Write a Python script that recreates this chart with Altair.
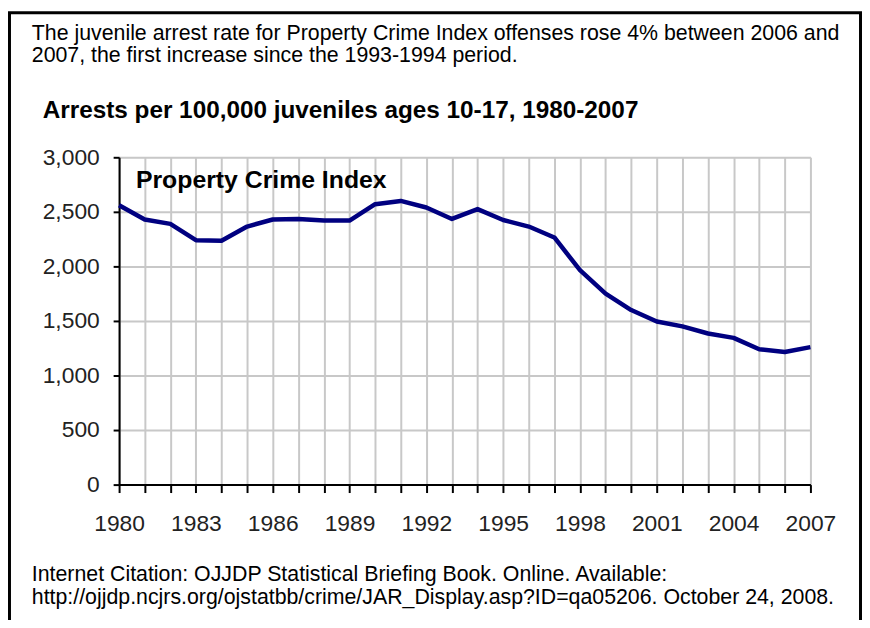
import altair as alt
import pandas as pd

# ---- data ----
years = list(range(1980, 2008))
rates = [2560, 2430, 2390, 2240, 2235, 2365, 2430, 2435, 2420, 2420,
         2570, 2600, 2540, 2435, 2525, 2425, 2365, 2265, 1965, 1750,
         1600, 1495, 1450, 1385, 1345, 1240, 1215, 1260]
y_ticks = [0, 500, 1000, 1500, 2000, 2500, 3000]

intro_lines = [
    "The juvenile arrest rate for Property Crime Index offenses rose 4% between 2006 and",
    "2007, the first increase since the 1993-1994 period.",
]
chart_title = "Arrests per 100,000 juveniles ages 10-17, 1980-2007"
series_label = "Property Crime Index"
citation_lines = [
    "Internet Citation: OJJDP Statistical Briefing Book. Online. Available:",
    "http://ojjdp.ncjrs.org/ojstatbb/crime/JAR_Display.asp?ID=qa05206. October 24, 2008.",
]

df = pd.DataFrame({"year": years, "rate": rates})

W, H = 697, 330
FONT = "Liberation Sans"

line = alt.Chart(df).mark_line(color="#000080", strokeWidth=4.5, strokeJoin="round").encode(
    x=alt.X("year:Q",
            scale=alt.Scale(domain=[1980, 2007], nice=False, zero=False),
            axis=alt.Axis(values=years, title=None,
                          labelExpr="(datum.value - 1980) % 3 == 0 ? toString(datum.value) : ''",
                          tickSize=8, tickWidth=2, tickColor="black",
                          domainColor="black", domainWidth=2,
                          labelPadding=20, labelFontSize=23, labelColor="#222222",
                          labelFont=FONT, labelFlush=False,
                          gridColor="#c8c8c8", gridWidth=2)),
    y=alt.Y("rate:Q",
            scale=alt.Scale(domain=[0, 3000], nice=False),
            axis=alt.Axis(values=y_ticks, title=None, format=",.0f",
                          tickSize=6, tickWidth=2, tickColor="black",
                          domainColor="black", domainWidth=2,
                          labelPadding=14, labelFontSize=23, labelColor="#222222",
                          labelFont=FONT,
                          gridColor="#c8c8c8", gridWidth=2)),
)


def text_layer(txt, x, y, size, bold=False):
    return alt.Chart(pd.DataFrame({"t": [txt]})).mark_text(
        align="left", baseline="alphabetic", font=FONT, fontSize=size,
        fontWeight="bold" if bold else "normal", color="black",
    ).encode(text="t:N", x=alt.value(x), y=alt.value(y))


frame = alt.Chart(pd.DataFrame({"d": [0]})).mark_rect(
    fill="white", fillOpacity=0, stroke="black", strokeWidth=3
).encode(x=alt.value(-110.5), x2=alt.value(747.5), y=alt.value(-145.7), y2=alt.value(480))

layers = [
    frame,
    line,
    text_layer(intro_lines[0], -88, -118.5, 21.5),
    text_layer(intro_lines[1], -88, -96.5, 21.5),
    text_layer(chart_title, -77, -39.3, 24.5, bold=True),
    text_layer(series_label, 17, 30.7, 25, bold=True),
    text_layer(citation_lines[0], -88, 426.7, 21.5),
    text_layer(citation_lines[1], -88, 450.7, 21.5),
]

chart = alt.layer(*layers).properties(
    width=W, height=H,
    autosize=alt.AutoSizeParams(type="none"),
    padding={"left": 112, "top": 148, "right": 52, "bottom": 134},
).configure_view(stroke="#999999", strokeWidth=2).configure(background="white")

chart.save("out.html", embed_options={"renderer": "svg", "actions": False})
